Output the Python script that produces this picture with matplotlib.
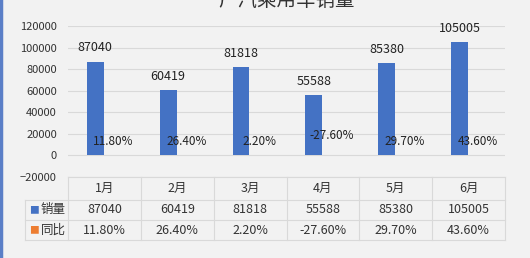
import matplotlib.pyplot as plt
import numpy as np

plt.rcParams['font.family'] = ['Noto Sans CJK SC', 'DejaVu Sans']

months = ["1月", "2月", "3月", "4月", "5月", "6月"]
sales = [87040, 60419, 81818, 55588, 85380, 105005]
yoy = [11.80, 26.40, 2.20, -27.60, 29.70, 43.60]
yoy_labels = ["11.80%", "26.40%", "2.20%", "-27.60%", "29.70%", "43.60%"]
title = "广汽乘用车销量"

blue = "#4472C4"
orange = "#ED7D31"
bg = "#F2F2F2"
grid_c = "#D9D9D9"

fig = plt.figure(figsize=(5.3, 2.58), dpi=100, facecolor=bg)
ax = fig.add_axes([68 / 530, 1 - 177 / 258, 437 / 530, 151 / 258])
ax.set_facecolor(bg)

x = np.arange(len(months))
w = 0.23
ax.bar(x - 0.125, sales, width=w, color=blue, zorder=3)
ax.bar(x + 0.125, [v / 100 for v in yoy], width=w, color=orange, zorder=3)

for xi, v in zip(x, sales):
    ax.annotate(str(v), (xi - 0.125, v), xytext=(0, 10), textcoords="offset points",
                ha="center", va="center", fontsize=9, color="#222222")
for xi, v, lab in zip(x, yoy, yoy_labels):
    dy = 14 if v < 0 else 10
    ax.annotate(lab, (xi + 0.125, 0), xytext=(0, dy), textcoords="offset points",
                ha="center", va="center", fontsize=8.5, color="#222222")

ax.set_xlim(-0.5, 5.5)
ax.set_ylim(-20000, 120000)
ax.set_yticks(range(-20000, 120001, 20000))
ax.tick_params(axis="y", length=0, labelsize=8, pad=8, labelcolor="#333333")
ax.set_xticks([])
ax.grid(axis="y", color=grid_c, linewidth=0.8, zorder=0)
for s in ax.spines.values():
    s.set_visible(False)

# data table under the axes
tr = ax.get_xaxis_transform()
rows_y = [0, -0.152, -0.285, -0.417]
col_edges = np.arange(-0.5, 6, 1)
left_edge = -1.09
lw = 0.8
for i, yv in enumerate(rows_y):
    x0 = -0.5 if i == 0 else left_edge
    ax.plot([x0, 5.5], [yv, yv], transform=tr, color=grid_c, lw=lw, clip_on=False)
for xe in col_edges:
    ax.plot([xe, xe], [rows_y[0], rows_y[-1]], transform=tr, color=grid_c, lw=lw, clip_on=False)
ax.plot([left_edge, left_edge], [rows_y[1], rows_y[-1]], transform=tr, color=grid_c, lw=lw, clip_on=False)

def mid(a, b):
    return (a + b) / 2

for xi, m in zip(x, months):
    ax.text(xi, mid(rows_y[0], rows_y[1]), m, transform=tr, ha="center", va="center",
            fontsize=9, color="#333333")
for xi, v in zip(x, sales):
    ax.text(xi, mid(rows_y[1], rows_y[2]), str(v), transform=tr, ha="center", va="center",
            fontsize=9, color="#333333")
for xi, lab in zip(x, yoy_labels):
    ax.text(xi, mid(rows_y[2], rows_y[3]), lab, transform=tr, ha="center", va="center",
            fontsize=9, color="#333333")

for (name, col), yy in zip([("销量", blue), ("同比", orange)],
                           [mid(rows_y[1], rows_y[2]), mid(rows_y[2], rows_y[3])]):
    ax.text(left_edge + 0.06, yy, "■", transform=tr, ha="left", va="center",
            fontsize=7, color=col)
    ax.text(left_edge + 0.22, yy, name, transform=tr, ha="left", va="center",
            fontsize=9, color="#333333")

fig.text(287 / 530, 1.0, title, ha="center", va="center", fontsize=14, color="#333333")
fig.add_artist(plt.Line2D([0.002, 0.002], [0, 1], color="#5B7FC7", lw=2.5,
                          transform=fig.transFigure))

fig.savefig("out.png", dpi=100, facecolor=bg)
